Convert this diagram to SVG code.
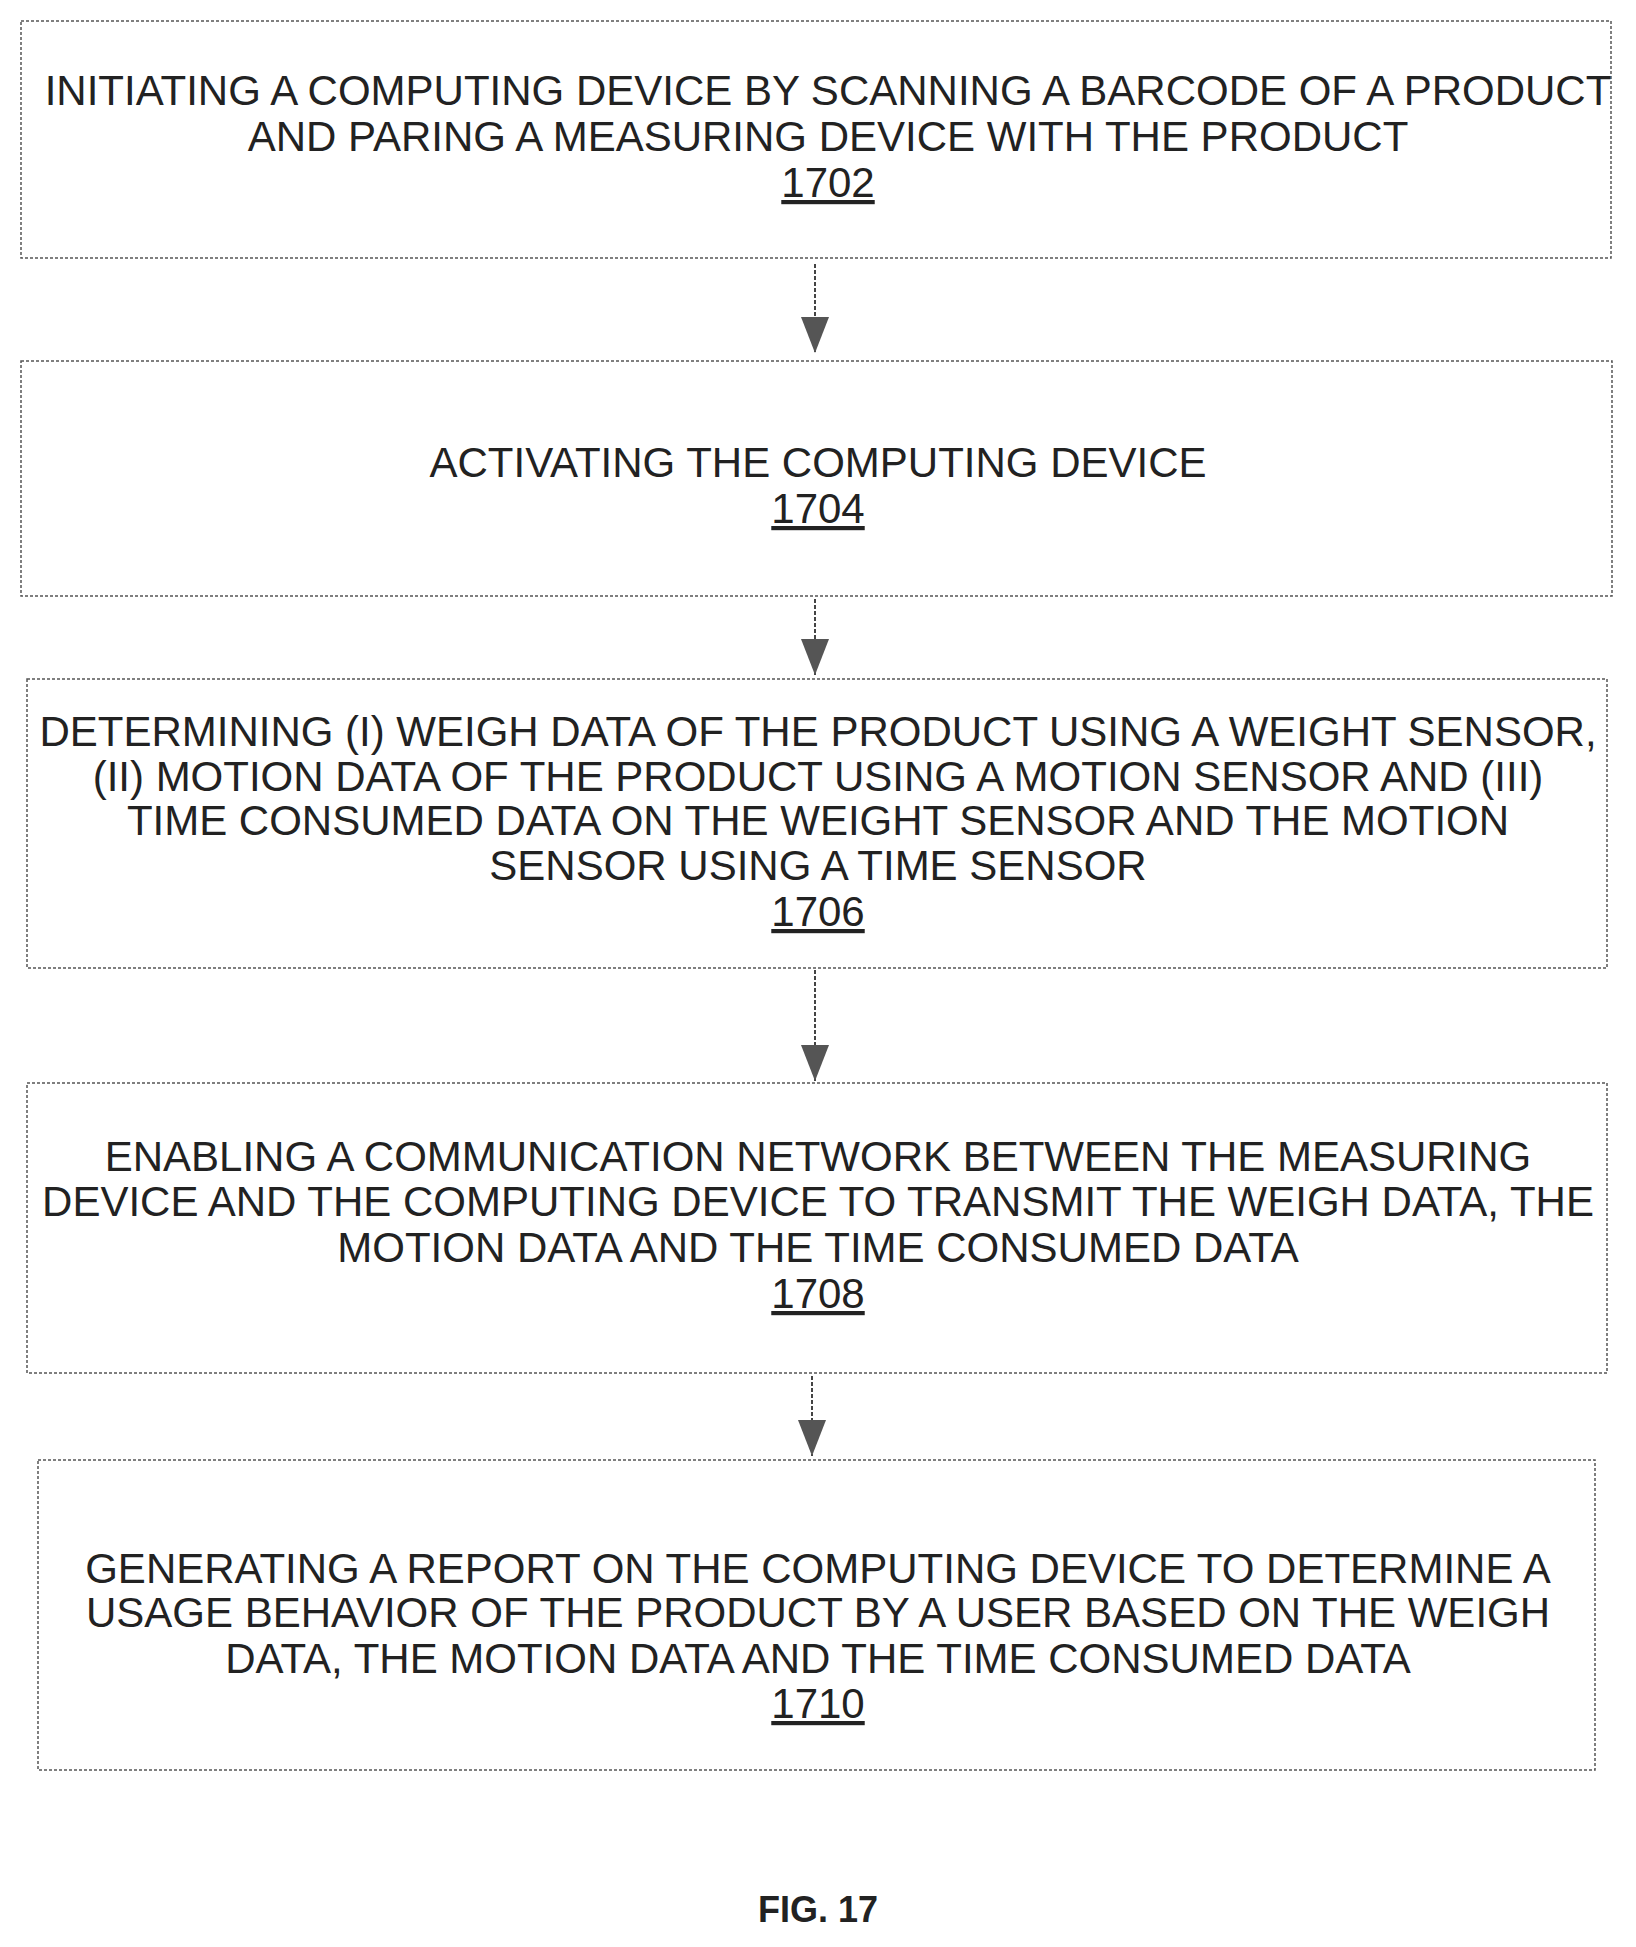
<svg xmlns="http://www.w3.org/2000/svg" width="1636" height="1947" viewBox="0 0 1636 1947">
<defs>
<style>
.b{fill:#fff;stroke:#555;stroke-width:1.5;stroke-dasharray:3 2}
.t{font-family:"Liberation Sans",Arial,sans-serif;font-size:42px;fill:#222;text-anchor:middle}
.n{text-decoration:underline}
.c{stroke:#444;stroke-width:2;stroke-dasharray:4 2;fill:none}
</style>
<marker id="a" markerWidth="36" markerHeight="28" refX="36" refY="14" orient="auto" markerUnits="userSpaceOnUse"><path d="M0,0 L36,14 L0,28 Z" fill="#555"/></marker>
</defs>
<rect width="1636" height="1947" fill="#fff"/>
<g id="n1702"><rect class="b" x="21" y="21" width="1590" height="237"/>
<text class="t" x="828" y="105">INITIATING A COMPUTING DEVICE BY SCANNING A BARCODE OF A PRODUCT</text>
<text class="t" x="828" y="151">AND PARING A MEASURING DEVICE WITH THE PRODUCT</text>
<text class="t n" x="828" y="197">1702</text></g>
<g id="n1704"><rect class="b" x="21" y="361" width="1591" height="235"/>
<text class="t" x="818" y="477">ACTIVATING THE COMPUTING DEVICE</text>
<text class="t n" x="818" y="523">1704</text></g>
<g id="n1706"><rect class="b" x="27" y="679" width="1580" height="289"/>
<text class="t" x="818" y="746">DETERMINING (I) WEIGH DATA OF THE PRODUCT USING A WEIGHT SENSOR,</text>
<text class="t" x="818" y="791">(II) MOTION DATA OF THE PRODUCT USING A MOTION SENSOR AND (III)</text>
<text class="t" x="818" y="835">TIME CONSUMED DATA ON THE WEIGHT SENSOR AND THE MOTION</text>
<text class="t" x="818" y="880">SENSOR USING A TIME SENSOR</text>
<text class="t n" x="818" y="926">1706</text></g>
<g id="n1708"><rect class="b" x="27" y="1083" width="1580" height="290"/>
<text class="t" x="818" y="1171">ENABLING A COMMUNICATION NETWORK BETWEEN THE MEASURING</text>
<text class="t" x="818" y="1216">DEVICE AND THE COMPUTING DEVICE TO TRANSMIT THE WEIGH DATA, THE</text>
<text class="t" x="818" y="1262">MOTION DATA AND THE TIME CONSUMED DATA</text>
<text class="t n" x="818" y="1308">1708</text></g>
<g id="n1710"><rect class="b" x="38" y="1460" width="1557" height="310"/>
<text class="t" x="818" y="1583">GENERATING A REPORT ON THE COMPUTING DEVICE TO DETERMINE A</text>
<text class="t" x="818" y="1627">USAGE BEHAVIOR OF THE PRODUCT BY A USER BASED ON THE WEIGH</text>
<text class="t" x="818" y="1673">DATA, THE MOTION DATA AND THE TIME CONSUMED DATA</text>
<text class="t n" x="818" y="1718">1710</text></g>
<g id="connectors">
<line class="c" x1="815" y1="264" x2="815" y2="353" marker-end="url(#a)"/>
<line class="c" x1="815" y1="599" x2="815" y2="675" marker-end="url(#a)"/>
<line class="c" x1="815" y1="970" x2="815" y2="1081" marker-end="url(#a)"/>
<line class="c" x1="812" y1="1376" x2="812" y2="1456" marker-end="url(#a)"/>
</g>
<text x="818" y="1922" style="font-family:'Liberation Sans',Arial,sans-serif;font-size:36px;font-weight:bold;fill:#222;text-anchor:middle">FIG. 17</text>
</svg>
